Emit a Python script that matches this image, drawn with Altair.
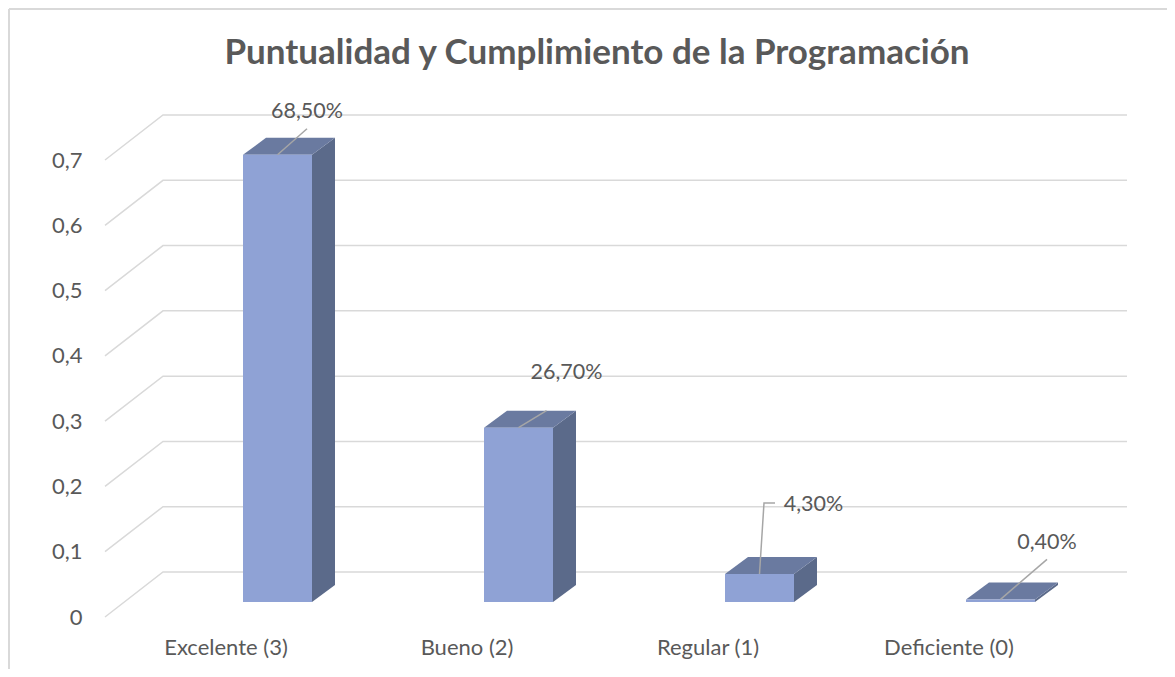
import altair as alt
import pandas as pd

# ---------------- data ----------------
categories = ["Excelente (3)", "Bueno (2)", "Regular (1)", "Deficiente (0)"]
values = [0.685, 0.267, 0.043, 0.004]
y_ticks = [0, 0.1, 0.2, 0.3, 0.4, 0.5, 0.6, 0.7]
title_text = ["Puntualidad y Cumplimiento de la Programación"]

# ---------------- layout / projection (pixels -> data units) ----------------
W, H = 964, 457
XMAX, YMAX = 4.0, 0.7
PX_X = W / XMAX
PX_Y = H / YMAX


def ux(px):
    return px / PX_X


def uy(px):
    return px / PX_Y


WALL_DX, WALL_DY = ux(58), uy(45)       # depth of the back wall
BAR_X0, BAR_X1 = ux(138), ux(207)       # front face inside each category
BAR_BASE = uy(15)                       # bar sits a little behind the front plane
BAR_DX, BAR_DY = ux(23), uy(17)         # bar depth

# data-label placement relative to bar's front-top centre (px: right, up)
label_offsets = [(29.5, 43), (48, 55), (54, 69), (46.5, 56)]
leader_paths = [
    [(0, 0), (29.5, 26)],
    [(0, 0), (28, 17)],
    [(0, 0), (4.5, 71), (15.5, 71)],
    [(0, 0), (46.5, 40)],
]

FRONT = "#8fa2d5"
TOP = "#6a7aa0"
SIDE = "#5b6a8a"
GRID = "#d9d9d9"
TEXT = "#595959"
FONT = "Lato"
AXIS_FS = 22
LABEL_FS = 21.5

# ---------------- tables ----------------
grid_rows = []
for v in y_ticks:
    grid_rows += [
        {"g": v, "o": 0, "x": 0.0, "y": v},
        {"g": v, "o": 1, "x": WALL_DX, "y": v + WALL_DY},
        {"g": v, "o": 2, "x": XMAX + WALL_DX, "y": v + WALL_DY},
    ]
grid_df = pd.DataFrame(grid_rows)

front_rows, top_rows, side_rows, label_rows, leader_rows = [], [], [], [], []
for i, (c, v) in enumerate(zip(categories, values)):
    x0, x1 = i + BAR_X0, i + BAR_X1
    yb, yt = BAR_BASE, BAR_BASE + v
    front_rows.append({"c": c, "x": x0, "x2": x1, "y": yb, "y2": yt})
    top_rows += [
        {"c": c, "y": yt, "x": x0, "x2": x1},
        {"c": c, "y": yt + BAR_DY, "x": x0 + BAR_DX, "x2": x1 + BAR_DX},
    ]
    side_rows += [
        {"c": c, "x": x1, "y": yb, "y2": yt},
        {"c": c, "x": x1 + BAR_DX, "y": yb + BAR_DY, "y2": yt + BAR_DY},
    ]
    cx = (x0 + x1) / 2
    ox, oy = label_offsets[i]
    label_rows.append({"c": c, "v": v, "x": cx + ux(ox), "y": yt + uy(oy)})
    for k, (px, py) in enumerate(leader_paths[i]):
        leader_rows.append({"c": c, "o": k, "x": cx + ux(px), "y": yt + uy(py)})

front_df = pd.DataFrame(front_rows)
top_df = pd.DataFrame(top_rows)
side_df = pd.DataFrame(side_rows)
label_df = pd.DataFrame(label_rows)
leader_df = pd.DataFrame(leader_rows)
title_df = pd.DataFrame({"t": title_text})

xscale = alt.Scale(domain=[0, XMAX], nice=False, zero=False)
yscale = alt.Scale(domain=[0, YMAX], nice=False, zero=False)

cat_expr = "[" + ",".join(f"'{c}'" for c in categories) + "][floor(datum.value)]"

x_axis = alt.Axis(
    values=[0.5, 1.5, 2.5, 3.5], labelExpr=cat_expr, title=None, domain=False,
    ticks=False, grid=False, labelPadding=20, labelFont=FONT, labelFontSize=AXIS_FS,
    labelColor=TEXT,
)
y_axis = alt.Axis(
    values=y_ticks, labelExpr="replace(format(datum.value, '.1~f'), '.', ',')",
    title=None, domain=False, ticks=False, grid=False, labelPadding=23,
    labelFont=FONT, labelFontSize=AXIS_FS, labelColor=TEXT,
)

grid = alt.Chart(grid_df).mark_line(color=GRID, strokeWidth=1.5).encode(
    x=alt.X("x:Q", scale=xscale, axis=x_axis),
    y=alt.Y("y:Q", scale=yscale, axis=y_axis),
    detail="g:N",
    order="o:Q",
)

side = alt.Chart(side_df).mark_area(color=SIDE, opacity=1).encode(
    x=alt.X("x:Q", scale=xscale), y=alt.Y("y:Q", scale=yscale), y2="y2:Q",
    detail="c:N",
)
top = alt.Chart(top_df).mark_area(color=TOP, opacity=1, orient="horizontal").encode(
    y=alt.Y("y:Q", scale=yscale), x=alt.X("x:Q", scale=xscale), x2="x2:Q",
    detail="c:N",
)
front = alt.Chart(front_df).mark_rect(color=FRONT).encode(
    x=alt.X("x:Q", scale=xscale), x2="x2:Q",
    y=alt.Y("y:Q", scale=yscale), y2="y2:Q",
)
leaders = alt.Chart(leader_df).mark_line(color="#a6a6a6", strokeWidth=1.5).encode(
    x=alt.X("x:Q", scale=xscale), y=alt.Y("y:Q", scale=yscale),
    detail="c:N", order="o:Q",
)
labels = alt.Chart(label_df).transform_calculate(
    t="replace(format(datum.v, '.2%'), '.', ',')"
).mark_text(font=FONT, fontSize=LABEL_FS, color=TEXT, align="center", baseline="middle").encode(
    x=alt.X("x:Q", scale=xscale), y=alt.Y("y:Q", scale=yscale), text="t:N",
)

title = alt.Chart(title_df).mark_text(
    font=FONT, fontSize=35, fontWeight="bold", color=TEXT, align="center",
    baseline="alphabetic",
).encode(x=alt.value(492), y=alt.value(-96), text="t:N")

frame_top = alt.Chart(grid_df).mark_rule(color=GRID, strokeWidth=2).encode(
    x=alt.value(-96), x2=alt.value(1062), y=alt.value(-151)
)
frame_left = alt.Chart(grid_df).mark_rule(color=GRID, strokeWidth=2).encode(
    x=alt.value(-96), y=alt.value(-151), y2=alt.value(509)
)

chart = alt.layer(
    frame_top, frame_left, grid, side, top, front, leaders, labels, title
).properties(
    width=W, height=H,
    autosize=alt.AutoSizeParams(type="none"),
    padding={"left": 97, "top": 152, "right": 98, "bottom": 52},
    background="white",
).configure_view(stroke=None)

chart.save("out.html", embed_options={"renderer": "svg", "actions": False})
